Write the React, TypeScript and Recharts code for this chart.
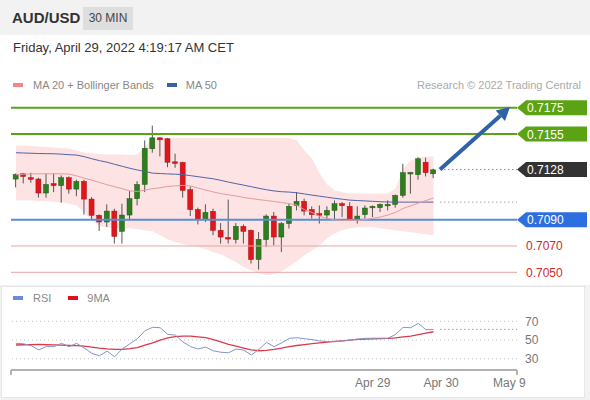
import React from 'react';
import { ComposedChart, Bar, Line, Area, XAxis, YAxis, ReferenceLine } from 'recharts';

// 30 min AUD/USD candles
const opens = [0.71208, 0.71248, 0.71218, 0.71208, 0.71102, 0.71173, 0.71158, 0.71218, 0.71132, 0.7119, 0.71056, 0.70933, 0.70882, 0.70965, 0.70811, 0.70935, 0.71059, 0.71167, 0.71438, 0.71521, 0.71514, 0.71339, 0.71334, 0.71127, 0.70976, 0.709, 0.70963, 0.70819, 0.70764, 0.70748, 0.70849, 0.70819, 0.70597, 0.70748, 0.70927, 0.70768, 0.7087, 0.71006, 0.71039, 0.70976, 0.70945, 0.70935, 0.7097, 0.71021, 0.71001, 0.70905, 0.70938, 0.70991, 0.70991, 0.71008, 0.71016, 0.71084, 0.71252, 0.71241, 0.71336, 0.71248];
const highs = [0.71251, 0.71251, 0.71256, 0.71218, 0.71251, 0.71251, 0.71236, 0.71228, 0.71203, 0.71203, 0.71071, 0.7094, 0.71016, 0.70983, 0.71021, 0.71117, 0.71192, 0.71501, 0.71614, 0.71526, 0.7152, 0.714, 0.7134, 0.71152, 0.70991, 0.71016, 0.70983, 0.70874, 0.71052, 0.70874, 0.70864, 0.70825, 0.70806, 0.7094, 0.70958, 0.70882, 0.71021, 0.71109, 0.71059, 0.71001, 0.71008, 0.71001, 0.71046, 0.71033, 0.71033, 0.71001, 0.71008, 0.71008, 0.71023, 0.71046, 0.7109, 0.71324, 0.71262, 0.71374, 0.7137, 0.71286];
const lows = [0.71145, 0.71175, 0.7118, 0.71067, 0.71067, 0.71109, 0.71029, 0.71097, 0.71077, 0.70938, 0.70895, 0.70814, 0.70844, 0.70718, 0.70718, 0.70895, 0.71008, 0.71109, 0.71408, 0.7138, 0.71298, 0.71294, 0.71067, 0.70927, 0.70864, 0.70882, 0.70781, 0.70718, 0.70718, 0.70718, 0.70718, 0.70567, 0.70521, 0.70692, 0.70705, 0.70655, 0.70832, 0.7097, 0.70933, 0.70908, 0.7087, 0.709, 0.709, 0.7092, 0.709, 0.7087, 0.70908, 0.7092, 0.70958, 0.7097, 0.70991, 0.71067, 0.71097, 0.71203, 0.71228, 0.71215];
const closes = [0.71243, 0.71228, 0.71208, 0.71102, 0.71167, 0.71158, 0.71218, 0.71132, 0.7119, 0.71056, 0.70933, 0.70882, 0.70965, 0.70773, 0.70935, 0.71059, 0.71167, 0.71442, 0.71521, 0.71506, 0.71336, 0.71329, 0.71122, 0.70976, 0.709, 0.70955, 0.70819, 0.70768, 0.70753, 0.70849, 0.70811, 0.70597, 0.70751, 0.70927, 0.70768, 0.7087, 0.71001, 0.71039, 0.70965, 0.70938, 0.70935, 0.7097, 0.71021, 0.71006, 0.70905, 0.70927, 0.70988, 0.71001, 0.71016, 0.71016, 0.71084, 0.71256, 0.71258, 0.71362, 0.71256, 0.71278];

const ma20 = [0.71241, 0.71244, 0.71247, 0.71248, 0.71248, 0.71248, 0.71248, 0.71246, 0.71232, 0.71215, 0.712, 0.71182, 0.71165, 0.7115, 0.71135, 0.71118, 0.71114, 0.71125, 0.71135, 0.71142, 0.71152, 0.71157, 0.7116, 0.71155, 0.7114, 0.71125, 0.7111, 0.71098, 0.71088, 0.7108, 0.71068, 0.7106, 0.71052, 0.71045, 0.71038, 0.7103, 0.71021, 0.7101, 0.70975, 0.70955, 0.70925, 0.7091, 0.70898, 0.70895, 0.70895, 0.70895, 0.709, 0.7091, 0.7092, 0.70935, 0.70955, 0.70985, 0.71005, 0.71025, 0.71045, 0.71064];
const ma50 = [0.71408, 0.71406, 0.71404, 0.71402, 0.71401, 0.714, 0.71397, 0.71393, 0.7139, 0.71378, 0.71362, 0.71348, 0.71336, 0.7132, 0.71305, 0.7129, 0.71277, 0.71266, 0.71253, 0.7125, 0.71247, 0.71245, 0.71242, 0.71234, 0.71226, 0.71218, 0.7121, 0.71198, 0.71185, 0.71173, 0.71162, 0.7115, 0.71138, 0.71127, 0.71118, 0.71112, 0.71109, 0.71104, 0.71095, 0.71086, 0.71078, 0.7107, 0.71062, 0.71055, 0.71048, 0.71045, 0.71042, 0.71039, 0.71036, 0.71034, 0.71033, 0.71033, 0.71033, 0.71033, 0.71033, 0.71033];
const bbUpper = [0.71463, 0.71463, 0.71459, 0.71455, 0.71452, 0.71448, 0.71444, 0.7144, 0.71425, 0.7141, 0.71402, 0.71398, 0.71395, 0.71395, 0.71395, 0.71391, 0.71395, 0.71455, 0.71516, 0.7152, 0.7152, 0.7152, 0.7152, 0.7152, 0.7152, 0.7152, 0.7152, 0.7152, 0.7152, 0.7152, 0.7152, 0.7152, 0.7152, 0.7152, 0.7152, 0.7152, 0.7152, 0.71501, 0.71425, 0.71364, 0.71251, 0.71167, 0.71122, 0.71107, 0.71099, 0.71099, 0.71099, 0.71099, 0.71099, 0.71099, 0.71137, 0.71289, 0.71349, 0.71372, 0.7138, 0.7138];
const bbLower = [0.71046, 0.71046, 0.71046, 0.71042, 0.71039, 0.71035, 0.71031, 0.71023, 0.71008, 0.70955, 0.70895, 0.70849, 0.70842, 0.70834, 0.70834, 0.70834, 0.70827, 0.70819, 0.70811, 0.70781, 0.70751, 0.70728, 0.70713, 0.70702, 0.70694, 0.70675, 0.70652, 0.70637, 0.70607, 0.70577, 0.70539, 0.70516, 0.70493, 0.70478, 0.70486, 0.70508, 0.70546, 0.70584, 0.7063, 0.70667, 0.70705, 0.70758, 0.70796, 0.70819, 0.70834, 0.70842, 0.70844, 0.70842, 0.70834, 0.70827, 0.70819, 0.70811, 0.70804, 0.70796, 0.70789, 0.70781];

const rsi = [46.5, 46, 44, 39.5, 43, 43, 46.5, 43, 46.5, 41.5, 35.8, 33.2, 38.2, 32.1, 40.5, 46, 51.5, 60, 63.6, 63.2, 56.1, 55.3, 48, 43, 40.5, 42.5, 38.5, 37, 36.4, 40.4, 39.3, 34, 40, 47.5, 43, 47, 51.8, 52.5, 51.5, 50.5, 49, 48.5, 48.2, 49, 50, 51, 51.8, 52, 52, 52, 56, 63.6, 63.2, 67.9, 61, 61.4];
const rsiMa9 = [44.7, 45, 45.2, 45.3, 45, 44.8, 44.5, 44.2, 44, 43.5, 42.5, 41.3, 40.6, 40.1, 40, 40.8, 42, 44.5, 47, 50, 52.3, 53.6, 54.2, 54.2, 53.5, 52.5, 50.5, 48, 45.5, 43.5, 41.5, 39.5, 38.6, 39, 40, 41.5, 43, 44.2, 45.2, 46.2, 47, 47.8, 48.5, 49.2, 50, 50.7, 51, 51.3, 51.5, 51.8, 52.3, 53.3, 54.3, 55.8, 57.3, 58.9];

const resistances = [0.7175, 0.7155];
const lastPrice = 0.7128;
const pivot = 0.709;
const supports = [0.707, 0.705];
const target = { from: [56.86, 0.7128], to: [66.08, 0.71755] };

const timeTicks = [48, 57, 66];
const timeLabels = ['Apr 29', 'Apr 30', 'May 9'];
const rsiLevels = [30, 50, 70];

const X_DOMAIN: [number, number] = [0.35, 67];
const FONT = '"Liberation Sans", Arial, sans-serif';

const rows = opens.map((o, i) => ({
  idx: i + 1,
  open: o,
  high: highs[i],
  low: lows[i],
  close: closes[i],
  ma20: ma20[i],
  ma50: ma50[i],
  band: [bbLower[i], bbUpper[i]],
  rsi: rsi[i],
  ma9: rsiMa9[i],
}));

const Candle = (props: any) => {
  const { x, y, width, height, payload } = props;
  const { open, close, high, low } = payload;
  const top0 = Math.min(y, y + height);
  const h = Math.abs(height);
  const cx = x + width / 2;
  const k = high === low ? 0 : h / (high - low);
  const yOf = (v: number) => top0 + (high - v) * k;
  const up = close >= open;
  const bTop = yOf(Math.max(open, close));
  const bBot = yOf(Math.min(open, close));
  return (
    <g>
      <line x1={cx} x2={cx} y1={top0} y2={top0 + h} stroke="#555" strokeWidth={1} />
      <rect
        x={cx - 2.5}
        y={bTop}
        width={5}
        height={Math.max(bBot - bTop, 1.5)}
        fill={up ? '#2e7d1e' : '#e0161b'}
        stroke={up ? '#1f5c14' : '#a80e12'}
        strokeWidth={0.5}
      />
    </g>
  );
};

const Tag = (props: any) => {
  const { viewBox, text, color } = props;
  if (!viewBox) return null;
  const x = viewBox.x + viewBox.width;
  const y = viewBox.y;
  const pts = `${x},${y} ${x + 9},${y - 7.5} ${x + 70},${y - 7.5} ${x + 70},${y + 7.5} ${x + 9},${y + 7.5}`;
  return (
    <g>
      <polygon points={pts} fill={color} />
      <text x={x + 10} y={y + 4.5} fill="#fff" fontSize={12} fontFamily={FONT}>{text}</text>
    </g>
  );
};

const PlainTag = (props: any) => {
  const { viewBox, text } = props;
  if (!viewBox) return null;
  return (
    <text x={viewBox.x + viewBox.width + 9} y={viewBox.y + 4.5} fill="#cc2a2a" fontSize={12} fontFamily={FONT}>{text}</text>
  );
};

const Arrow = (p: any) => {
  const { x1, y1, x2, y2 } = p;
  const a = Math.atan2(y2 - y1, x2 - x1);
  const head = 13;
  const w = 7;
  const bx = x2 - head * Math.cos(a);
  const by = y2 - head * Math.sin(a);
  const pts = `${x2},${y2} ${bx + w * Math.sin(a)},${by - w * Math.cos(a)} ${bx - w * Math.sin(a)},${by + w * Math.cos(a)}`;
  return (
    <g>
      <line x1={x1} y1={y1} x2={bx} y2={by} stroke="#2f62a6" strokeWidth={4} />
      <polygon points={pts} fill="#2f62a6" />
    </g>
  );
};

const TimeTick = (props: any) => {
  const { x, y, payload } = props;
  const i = timeTicks.indexOf(payload.value);
  if (i < 0) {
    return <line x1={x} x2={x} y1={y - 8} y2={y - 3} stroke="#b3b3b3" strokeWidth={2} />;
  }
  return (
    <text x={x} y={y + 9} textAnchor="middle" fill="#777" fontSize={12} fontFamily={FONT}>
      {timeLabels[i]}
    </text>
  );
};

const fmt = (v: number) => v.toFixed(4);

export default function App() {
  return (
    <div style={{ position: 'absolute', left: 0, top: 0, width: 590, height: 400, background: '#f2f2f2', fontFamily: FONT, overflow: 'hidden' }}>
      <div style={{ position: 'absolute', left: 12, top: 9, fontSize: 15, fontWeight: 700, color: '#333' }}>AUD/USD</div>
      <div style={{ position: 'absolute', left: 83, top: 7, width: 50, height: 23, background: '#dedede', color: '#444', fontSize: 12, lineHeight: '23px', textAlign: 'center' }}>30 MIN</div>

      <div style={{ position: 'absolute', left: 0, top: 35, width: 590, height: 250, background: '#fff' }} />
      <div style={{ position: 'absolute', left: 1, top: 286, width: 582, height: 110, background: '#fff', border: '1px solid #e6e6e6' }} />

      <div style={{ position: 'absolute', left: 13, top: 40, fontSize: 13, color: '#333' }}>Friday, April 29, 2022 4:19:17 AM CET</div>

      <div style={{ position: 'absolute', left: 13, top: 79, fontSize: 11, color: '#888', display: 'flex', alignItems: 'center' }}>
        <span style={{ width: 10, height: 4, background: '#f08686', marginRight: 10 }} />
        <span style={{ marginRight: 13 }}>MA 20 + Bollinger Bands</span>
        <span style={{ width: 10, height: 4, background: '#3a5ea8', marginRight: 9 }} />
        <span>MA 50</span>
      </div>
      <div style={{ position: 'absolute', right: 9, top: 79, fontSize: 11, color: '#aaa' }}>Research © 2022 Trading Central</div>

      <div style={{ position: 'absolute', left: 0, top: 0 }}>
        <ComposedChart width={590} height={290} data={rows} margin={{ top: 94.5, right: 73, left: 11, bottom: 4.5 }}>
          <XAxis dataKey="idx" type="number" domain={X_DOMAIN} allowDataOverflow hide />
          <YAxis type="number" domain={[0.704, 0.7185]} allowDataOverflow hide />
          <Area dataKey="band" fill="#fde3e3" fillOpacity={1} stroke="none" isAnimationActive={false} />
          <ReferenceLine y={resistances[0]} stroke="#5ba315" strokeWidth={2} label={<Tag text={fmt(resistances[0])} color="#5ba315" />} />
          <ReferenceLine y={resistances[1]} stroke="#5ba315" strokeWidth={2} label={<Tag text={fmt(resistances[1])} color="#5ba315" />} />
          <ReferenceLine y={pivot} stroke="#5a8cd8" strokeWidth={2} label={<Tag text={fmt(pivot)} color="#2d6fe0" />} />
          {supports.map((s) => (
            <ReferenceLine key={s} y={s} stroke="#e8a3a3" strokeWidth={1} label={<PlainTag text={fmt(s)} />} />
          ))}
          <ReferenceLine
            segment={[{ x: 56.9, y: lastPrice }, { x: 67, y: lastPrice }]}
            stroke="#555"
            strokeDasharray="1 3"
            label={<Tag text={fmt(lastPrice)} color="#333" />}
          />
          <ReferenceLine
            segment={[{ x: 56.9, y: ma50[ma50.length - 1] }, { x: 67, y: ma50[ma50.length - 1] }]}
            stroke="#777"
            strokeDasharray="1 3"
          />
          <Line dataKey="ma50" stroke="#5064a6" strokeWidth={1} dot={false} isAnimationActive={false} />
          <Line dataKey="ma20" stroke="#e49b9b" strokeWidth={1} dot={false} isAnimationActive={false} />
          <Bar dataKey={(d: any) => [d.low, d.high]} barSize={5} shape={<Candle />} isAnimationActive={false} />
          <ReferenceLine
            segment={[{ x: target.from[0], y: target.from[1] }, { x: target.to[0], y: target.to[1] }]}
            shape={<Arrow />}
          />
        </ComposedChart>
      </div>

      <div style={{ position: 'absolute', left: 13, top: 292, fontSize: 11, color: '#888', display: 'flex', alignItems: 'center' }}>
        <span style={{ width: 10, height: 4, background: '#6c8ad6', marginRight: 10 }} />
        <span style={{ marginRight: 17 }}>RSI</span>
        <span style={{ width: 10, height: 4, background: '#e0101e', marginRight: 9 }} />
        <span>9MA</span>
      </div>

      <div style={{ position: 'absolute', left: 0, top: 290 }}>
        <ComposedChart width={590} height={110} data={rows} margin={{ top: 22, right: 0, left: 11, bottom: 0 }}>
          <XAxis
            dataKey="idx"
            type="number"
            domain={X_DOMAIN}
            allowDataOverflow
            ticks={[X_DOMAIN[0], ...timeTicks, X_DOMAIN[1]]}
            interval={0}
            axisLine={{ stroke: '#b3b3b3', strokeWidth: 2 }}
            tickLine={false}
            tick={<TimeTick />}
            height={30}
          />
          <YAxis
            orientation="right"
            type="number"
            domain={[18, 80]}
            ticks={rsiLevels}
            interval={0}
            axisLine={false}
            tickLine={false}
            width={73}
            tick={{ fill: '#777', fontSize: 12, fontFamily: FONT }}
          />
          {rsiLevels.map((l) => (
            <ReferenceLine key={l} y={l} stroke="#c4c4c4" strokeDasharray="1 3" />
          ))}
          <ReferenceLine
            segment={[{ x: 56.9, y: rsi[rsi.length - 1] }, { x: 67, y: rsi[rsi.length - 1] }]}
            stroke="#777"
            strokeDasharray="1 3"
          />
          <Line dataKey="ma9" stroke="#dc3a4c" strokeWidth={1.3} dot={false} isAnimationActive={false} />
          <Line dataKey="rsi" stroke="#8294cc" strokeWidth={1} dot={false} isAnimationActive={false} />
        </ComposedChart>
      </div>
    </div>
  );
}
